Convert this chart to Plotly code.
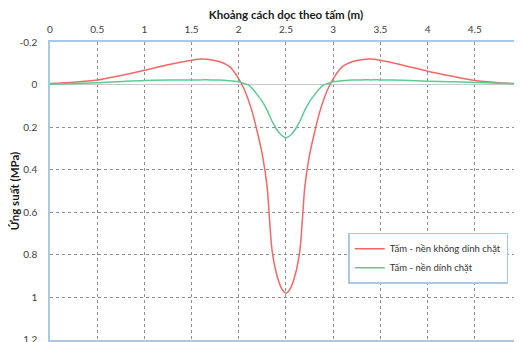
import plotly.graph_objects as go

# distance along the slab (m)
x_vals = [0.0, 0.25, 0.5, 0.75, 1.0, 1.25, 1.5, 1.6, 1.7, 1.8, 1.9, 1.95, 2.0, 2.05, 2.1, 2.15, 2.2, 2.25,
          2.3, 2.325, 2.35, 2.375, 2.4, 2.45, 2.5,
          2.55, 2.6, 2.625, 2.65, 2.675, 2.7, 2.75, 2.8, 2.85, 2.9, 2.95, 3.0, 3.05, 3.1, 3.2, 3.3, 3.4,
          3.5, 3.75, 4.0, 4.25, 4.5, 4.75, 5.0]
# stress (MPa), unbonded slab-base
red_vals = [-0.005, -0.011, -0.021, -0.043, -0.067, -0.093, -0.114, -0.12, -0.117, -0.107, -0.085, -0.06,
            -0.027, 0.015, 0.07, 0.14, 0.23, 0.33,
            0.48, 0.63, 0.77, 0.84, 0.89, 0.955, 0.98,
            0.955, 0.89, 0.84, 0.77, 0.63, 0.48, 0.33, 0.23, 0.14, 0.07, 0.015, -0.027, -0.06, -0.085,
            -0.107, -0.117, -0.12, -0.114, -0.09, -0.063, -0.04, -0.019, -0.009, -0.003]
# stress (MPa), bonded slab-base
green_vals = [-0.002, -0.005, -0.008, -0.014, -0.019, -0.021, -0.022, -0.022, -0.022, -0.021, -0.018, -0.016,
              -0.013, -0.006, 0.002, 0.022, 0.05, 0.08,
              0.12, 0.145, 0.17, 0.19, 0.21, 0.237, 0.25,
              0.237, 0.21, 0.19, 0.17, 0.145, 0.12, 0.08, 0.05, 0.022, 0.002, -0.006, -0.013, -0.016, -0.018,
              -0.021, -0.022, -0.022, -0.022, -0.02, -0.016, -0.013, -0.01, -0.006, -0.003]

x_ticks = [0, 0.5, 1, 1.5, 2, 2.5, 3, 3.5, 4, 4.5, 5]
x_labels = ["0", "0.5", "1", "1.5", "2", "2.5", "3", "3.5", "4", "4.5", "5"]
x_range = [0, 5.0005]
y_ticks = [-0.2, 0, 0.2, 0.4, 0.6, 0.8, 1.0, 1.2]
y_labels = ["-0.2", "0", "0.2", "0.4", "0.6", "0.8", "1", "1.2"]
y_range = [1.2005, -0.2]

series_names = ["Tấm - nền không dính chặt", "Tấm - nền dính chặt"]

FONT = "Lato"
BORDER = "#a9c8e8"
TICK_COLOR = "#404040"

fig = go.Figure()
fig.add_trace(go.Scatter(x=x_vals, y=red_vals, mode="lines", name=series_names[0],
                         line=dict(color="#f06868", width=1.5, shape="spline", smoothing=0.8)))
fig.add_trace(go.Scatter(x=x_vals, y=green_vals, mode="lines", name=series_names[1],
                         line=dict(color="#5ecb93", width=1.5, shape="spline", smoothing=0.8)))

# the page adds an 8px body margin, so the figure is sized to fill the rest of the window
fig.update_layout(
    width=514, height=334,
    margin=dict(l=42, r=0, t=34, b=2),
    paper_bgcolor="white", plot_bgcolor="white",
    font=dict(family=FONT, size=10, color=TICK_COLOR),
    xaxis=dict(
        side="top", range=x_range, tickvals=x_ticks, ticktext=x_labels, automargin=False,
        ticklabeloverflow="allow",
        showgrid=True, gridcolor="#8f8f8f", griddash="dot", gridwidth=1,
        showline=True, linecolor=BORDER, linewidth=1.5, mirror=True,
        zeroline=False, ticks="", ticklabelstandoff=3,
        title=dict(text="<b>Khoảng cách dọc theo tấm (m)</b>", font=dict(size=11.5, color="#1a1a1a"), standoff=3),
    ),
    yaxis=dict(
        range=y_range, tickvals=y_ticks, ticktext=y_labels, automargin=False,
        ticklabeloverflow="allow",
        showgrid=True, gridcolor="#8f8f8f", griddash="dot", gridwidth=1,
        showline=True, linecolor=BORDER, linewidth=1.5, mirror=True,
        zeroline=True, zerolinecolor="#c8c8c8", zerolinewidth=1,
        ticks="", ticklabelstandoff=9,
        title=dict(text="<b>Ứng suất (MPa)</b>", font=dict(size=11.5, color="#1a1a1a"), standoff=6),
    ),
    legend=dict(
        x=0.632, y=0.36, xanchor="left", yanchor="top",
        bgcolor="white", bordercolor=BORDER, borderwidth=1.5,
        font=dict(size=9.5, color="#333"), itemwidth=30, tracegroupgap=0,
    ),
    showlegend=True,
)

fig.write_html("out.html")
